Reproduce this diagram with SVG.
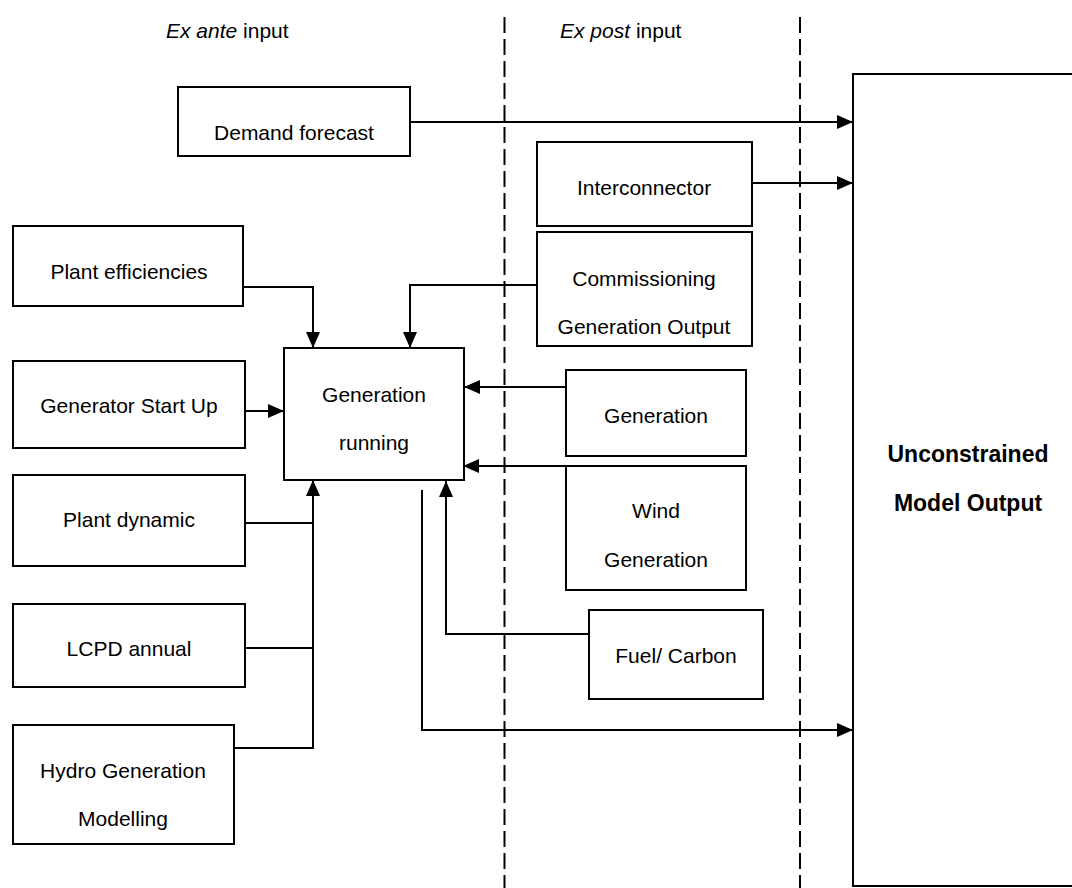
<svg xmlns="http://www.w3.org/2000/svg" width="1072" height="888" viewBox="0 0 1072 888">
<style>
.box{fill:#fff;stroke:#000;stroke-width:2}
.t{font-family:"Liberation Sans",Arial,sans-serif;font-size:21px;fill:#000;text-anchor:middle}
.h{font-family:"Liberation Sans",Arial,sans-serif;font-size:21px;fill:#000}
.b{font-family:"Liberation Sans",Arial,sans-serif;font-size:23px;font-weight:bold;fill:#000;text-anchor:middle}
.c{fill:none;stroke:#000;stroke-width:2}
.ca{fill:none;stroke:#000;stroke-width:2;marker-end:url(#ah)}
.d{fill:none;stroke:#000;stroke-width:2;stroke-dasharray:16 6}
</style>
<defs>
<marker id="ah" markerUnits="userSpaceOnUse" markerWidth="16" markerHeight="14" refX="16" refY="7" orient="auto">
<path d="M0,0 L16,7 L0,14 z" fill="#000"/>
</marker>
</defs>
<rect width="1072" height="888" fill="#fff"/>
<g id="dividers">
<line class="d" x1="504.5" y1="17" x2="504.5" y2="888"/>
<line class="d" x1="800" y1="17" x2="800" y2="888"/>
</g>
<g id="headings">
<text class="h" x="166" y="38"><tspan font-style="italic">Ex ante</tspan> input</text>
<text class="h" x="560" y="38"><tspan font-style="italic">Ex post</tspan> input</text>
</g>
<g id="connectors">
<line class="ca" x1="410" y1="122" x2="853" y2="122"/>
<line class="ca" x1="752" y1="183" x2="853" y2="183"/>
<polyline class="ca" points="243,287 313,287 313,348"/>
<polyline class="ca" points="537,285 410,285 410,348"/>
<line class="ca" x1="245" y1="411" x2="284" y2="411"/>
<line class="ca" x1="570" y1="387" x2="464" y2="387"/>
<line class="ca" x1="566" y1="466" x2="463" y2="466"/>
<line class="ca" x1="313" y1="748" x2="313" y2="480"/>
<line class="c" x1="245" y1="523" x2="313" y2="523"/>
<line class="c" x1="245" y1="648" x2="313" y2="648"/>
<line class="c" x1="234" y1="748" x2="314" y2="748"/>
<polyline class="ca" points="589,634 446,634 446,481"/>
<polyline class="ca" points="422,490 422,730 853,730"/>
</g>
<g id="demand-forecast">
<rect class="box" x="178" y="87" width="232" height="69"/>
<text class="t" x="294" y="140">Demand forecast</text>
</g>
<g id="interconnector">
<rect class="box" x="537" y="142" width="215" height="84"/>
<text class="t" x="644" y="195">Interconnector</text>
</g>
<g id="commissioning">
<rect class="box" x="537" y="232" width="215" height="114"/>
<text class="t" x="644" y="286">Commissioning</text>
<text class="t" x="644" y="334">Generation Output</text>
</g>
<g id="plant-efficiencies">
<rect class="box" x="13" y="226" width="230" height="80"/>
<text class="t" x="129" y="279">Plant efficiencies</text>
</g>
<g id="generator-start-up">
<rect class="box" x="13" y="361" width="232" height="87"/>
<text class="t" x="129" y="413">Generator Start Up</text>
</g>
<g id="plant-dynamic">
<rect class="box" x="13" y="475" width="232" height="91"/>
<text class="t" x="129" y="527">Plant dynamic</text>
</g>
<g id="lcpd-annual">
<rect class="box" x="13" y="604" width="232" height="83"/>
<text class="t" x="129" y="656">LCPD annual</text>
</g>
<g id="hydro">
<rect class="box" x="13" y="725" width="221" height="119"/>
<text class="t" x="123" y="778">Hydro Generation</text>
<text class="t" x="123" y="826">Modelling</text>
</g>
<g id="generation-running">
<rect class="box" x="284" y="348" width="180" height="132"/>
<text class="t" x="374" y="402">Generation</text>
<text class="t" x="374" y="450">running</text>
</g>
<g id="generation">
<rect class="box" x="566" y="370" width="180" height="86"/>
<text class="t" x="656" y="423">Generation</text>
</g>
<g id="wind-generation">
<rect class="box" x="566" y="466" width="180" height="124"/>
<text class="t" x="656" y="518">Wind</text>
<text class="t" x="656" y="567">Generation</text>
</g>
<g id="fuel-carbon">
<rect class="box" x="589" y="610" width="174" height="89"/>
<text class="t" x="676" y="663">Fuel/ Carbon</text>
</g>
<g id="model-output">
<rect class="box" x="853" y="74" width="230" height="812"/>
<text class="b" x="968" y="462">Unconstrained</text>
<text class="b" x="968" y="511">Model Output</text>
</g>
</svg>
